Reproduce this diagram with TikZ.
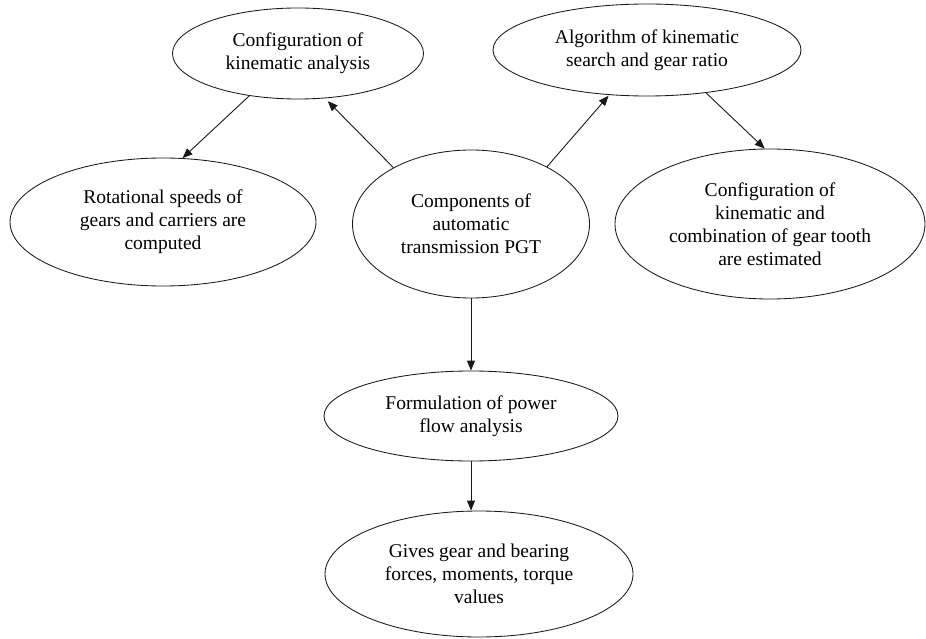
\documentclass[tikz,border=0pt]{standalone}
\usepackage{fontspec}
\setmainfont{Liberation Serif}
\usetikzlibrary{shapes.geometric,arrows.meta}
\begin{document}
\begin{tikzpicture}[x=1pt,y=-1pt,
  ell/.style={draw=black!90, line width=0.85pt, ellipse, inner sep=0pt, align=center,
    font=\fontsize{19.5}{23}\selectfont},
  conn/.style={draw=black!90, line width=0.9pt, -{Triangle[length=10pt,width=8pt]}}]
\useasboundingbox (0,0) rectangle (926,639);
\node[ell, minimum width=251pt, minimum height=91pt] (config) at (298,53.5) {Configuration of\\kinematic analysis};
\node[ell, minimum width=308pt, minimum height=92pt] (algo) at (647,50) {Algorithm of kinematic\\search and gear ratio};
\node[ell, minimum width=306pt, minimum height=128pt] (rot) at (163,222) {Rotational speeds of\\gears and carriers are\\computed};
\node[ell, minimum width=237pt, minimum height=148pt] (comp) at (471,224) {Components of\\automatic\\transmission PGT};
\node[ell, minimum width=310pt, minimum height=150pt] (cc) at (770,224) {Configuration of\\kinematic and\\combination of gear tooth\\are estimated};
\node[ell, minimum width=294pt, minimum height=90pt] (form) at (471,416) {Formulation of power\\flow analysis};
\node[ell, minimum width=308pt, minimum height=126pt] (gives) at (479,574) {Gives gear and bearing\\forces, moments, torque\\values};
\draw[conn, shorten >=4pt] (comp.144.7) -- (config.-59);
\draw[conn] (config.-139.5) -- (rot.73);
\draw[conn, shorten >=1pt] (comp.37.6) -- (algo.-130);
\draw[conn] (algo.-36) -- (cc.94);
\draw[conn] (comp.south) -- (form.north);
\draw[conn] (form.south) -- (form.south |- gives.north);
\end{tikzpicture}
\end{document}
